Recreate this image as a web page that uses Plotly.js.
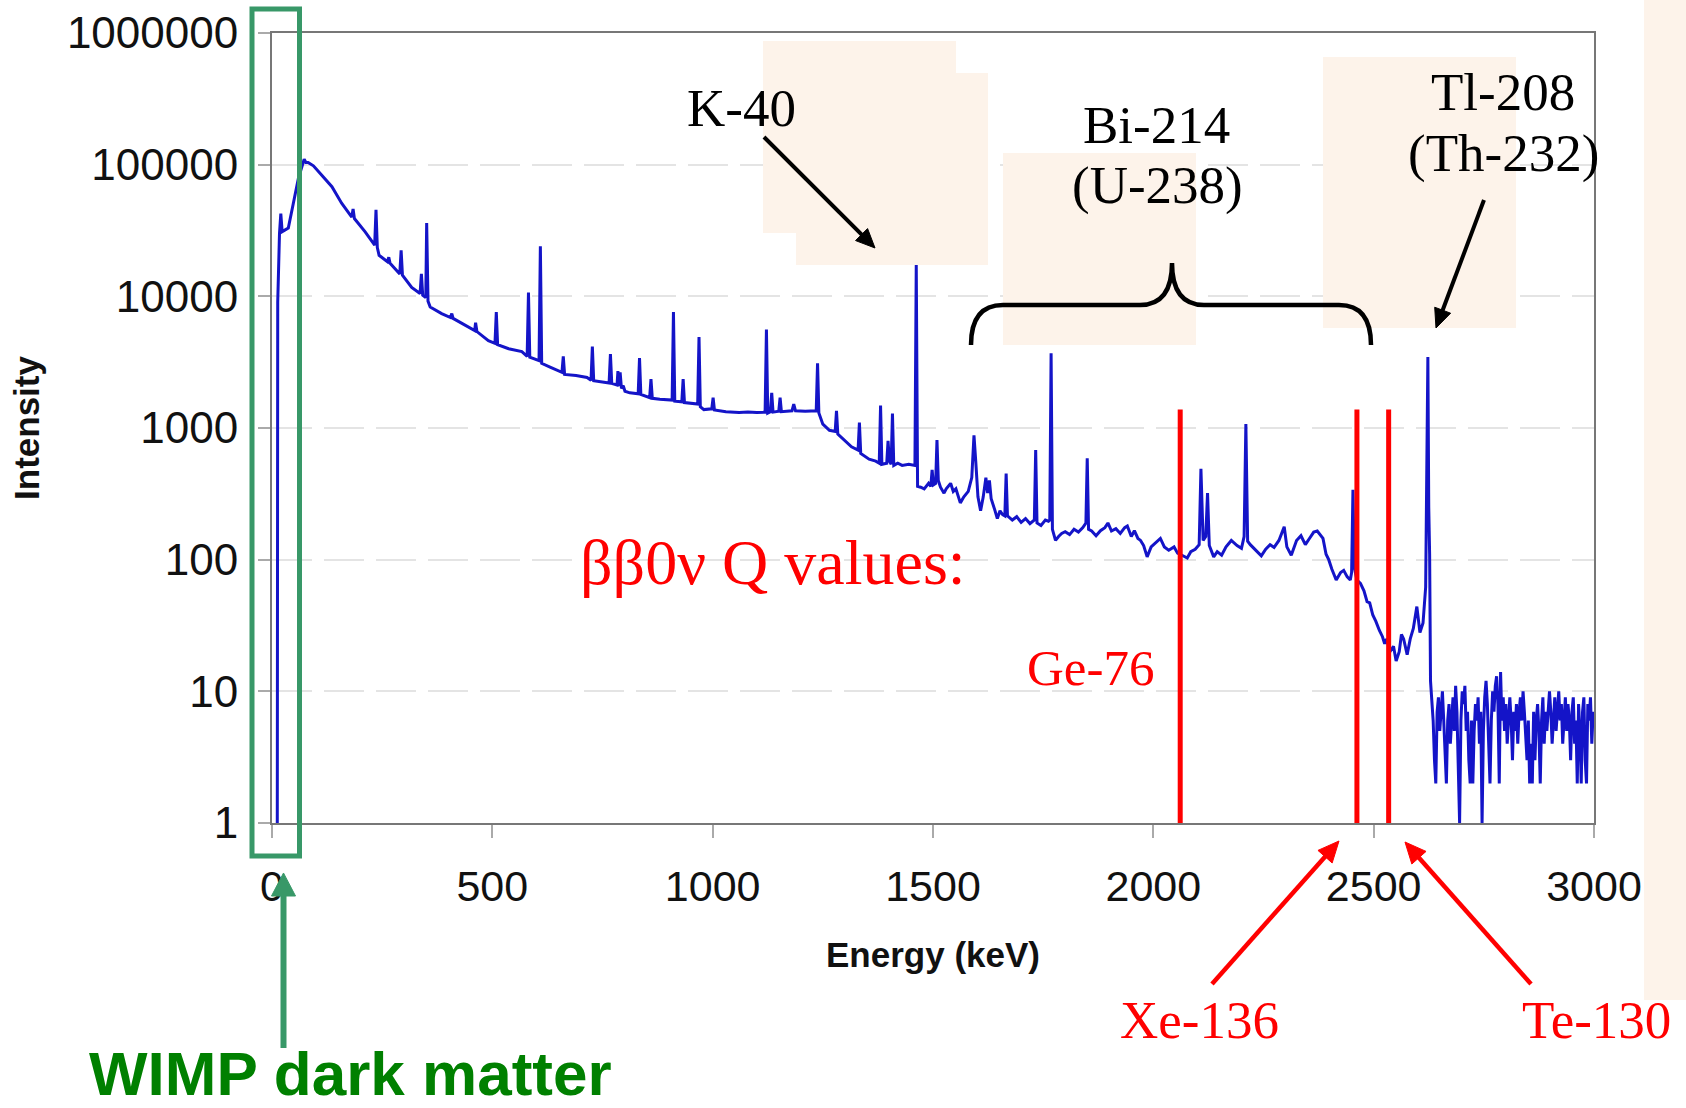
<!DOCTYPE html>
<html>
<head>
<meta charset="utf-8">
<script src="https://cdn.plot.ly/plotly-3.0.1.min.js"></script>
<style>
  html, body { margin: 0; padding: 0; background: #ffffff; }
  #chart { width: 1686px; height: 1108px; }
</style>
</head>
<body>
<div id="chart"></div>
<script>
// Background gamma spectrum, [energy keV, counts] pairs
const lowEnergySpectrum = [
  [10,1],[12,1],[13,9000],[15,22000],[17,30000],[20,42500],[23,31000],[28,31700],[37,33000],
  [48,50000],[60,79000],[73,110000],[77,104000],[82,104000],[94,98000],[113,83000],[136,68000],
  [158,51000],[181,40000],[184,46000],[187,39000],[211,31000],[233,24500],[236,45500],[239,23500],
  [243,20500],[262,18300],[265,19800],[268,17800],[290,14800],[293,22400],[296,14500],[317,11700],
  [336,10500],[339,14800],[342,10200],[349,9800],[351,36000],[354,9200],[359,8300],[385,7400],
  [405,6900],[408,7400],[411,6800],[453,5600],[460,5500],[462,6300],[465,5400],[491,4600],
  [506,4400],[509,7600],[512,4300],[537,4000],[567,3800],[579,3500],[582,10700],[585,3450],
  [606,3250],[609,24000],[612,3100],[631,2900],[645,2750],[658,2650],[661,3500],[664,2550]
];
const midEnergySpectrum = [
  [690,2500],[703,2450],[715,2420],[724,2300],[727,4150],[730,2290],[750,2250],[765,2200],
  [768,3650],[771,2180],[783,2120],[785,2700],[787,2080],[790,2650],[793,2000],[797,2100],
  [801,1900],[812,1850],[831,1820],[834,3400],[837,1800],[857,1700],[860,2350],[863,1680],
  [880,1650],[895,1640],[908,1630],[911,7600],[914,1600],[930,1580],[933,2350],[936,1560],
  [950,1540],[966,1520],[969,4900],[972,1450],[980,1380],[998,1400],[1001,1700],[1004,1370],
  [1030,1330],[1060,1310],[1080,1320],[1100,1310],[1119,1320],[1122,5600],[1125,1300],
  [1131,1330],[1134,1850],[1137,1320],[1150,1340],[1153,1700],[1156,1330],[1180,1350],
  [1184,1520],[1188,1350],[1210,1340],[1235,1350],[1238,3100],[1241,1300],[1250,1070],
  [1265,960],[1278,940],[1281,1350],[1284,900],[1300,800],[1315,720],[1330,680],[1333,1100],
  [1336,640],[1355,580],[1370,560],[1378,540],[1381,1480],[1384,530],[1395,540],[1398,800],
  [1401,560],[1405,530],[1408,1290],[1411,520],[1420,540],[1430,520],[1445,530],[1459,520],
  [1462,17300],[1465,360],[1472,355],[1480,345],[1490,380],[1495,360],[1498,480],[1501,370],
  [1506,380],[1509,810],[1512,400],[1517,355]
];
const highEnergySpectrum = [
  [1525,320],[1530,345],[1540,380],[1546,330],[1552,345],[1562,270],[1570,300],[1580,330],
  [1588,420],[1593,880],[1597,560],[1602,300],[1608,235],[1614,300],[1620,420],[1624,320],
  [1628,400],[1632,290],[1640,240],[1646,205],[1652,235],[1658,220],[1663,215],[1666,450],
  [1669,215],[1680,200],[1690,212],[1700,192],[1710,205],[1720,188],[1730,200],[1733,680],
  [1736,190],[1745,182],[1755,200],[1762,196],[1765,200],[1768,3700],[1771,170],[1778,140],
  [1785,150],[1792,158],[1800,163],[1810,155],[1820,170],[1830,162],[1840,175],[1847,190],
  [1850,590],[1853,170],[1860,165],[1870,152],[1880,166],[1890,175],[1897,190],[1905,165],
  [1915,172],[1925,158],[1935,175],[1941,180],[1950,150],[1957,166],[1965,145],[1971,140],
  [1978,128],[1986,105],[1995,125],[2005,135],[2016,145],[2025,125],[2035,118],[2047,125],
  [2055,112],[2065,108],[2077,103],[2085,115],[2095,120],[2104,130],[2108,490],[2113,140],
  [2119,150],[2123,320],[2127,128],[2137,105],[2145,115],[2155,108],[2165,125],[2177,140],
  [2190,128],[2200,122],[2206,150],[2210,1070],[2214,138],[2220,130],[2232,118],[2245,107],
  [2255,120],[2265,130],[2274,124],[2285,140],[2297,178],[2303,125],[2313,108],[2325,140],
  [2335,152],[2345,130],[2355,146],[2364,162],[2372,165],[2380,152],[2385,145],[2392,110],
  [2398,100],[2405,85],[2415,70],[2425,80],[2432,83],[2440,74],[2447,70],[2450,80],[2453,340],
  [2456,88],[2462,70],[2470,66],[2478,58],[2485,48],[2491,47],[2498,38],[2505,34],[2513,29],
  [2520,26],[2525,23],[2530,25],[2537,20],[2545,22],[2551,17],[2558,20],[2563,27],[2568,25],
  [2576,19],[2583,25],[2590,30],[2598,44],[2605,28],[2612,33],[2618,62],[2621,1200],
  [2623,3460],[2625,250],[2627,110],[2629,12]
];
// Counts above the Tl-208 line, one value per 3 keV channel
const tailStartKeV = 2632;
const tailStepKeV = 3;
const tailCounts = [
  9,6,3,2,7,9,5,8,10,6,3,2,6,8,4,7,9,5,11,7,3,1,6,10,8,11,5,7,3,2,6,2,5,8,6,9,4,7,1,5,
  9,12,8,4,2,6,10,7,11,13,8,2,14,6,9,5,8,4,7,9,6,3,7,5,8,4,7,9,6,10,7,5,3,6,2,4,2,7,3,6,
  8,5,2,6,9,4,7,5,8,10,7,4,6,9,5,7,10,6,8,4,7,9,5,8,6,3,7,9,4,6,2,8,5,2,7,9,3,2,8,6,9,4,7
];

// Double-beta-decay Q value markers
const qValueNames = ['Ge-76', 'Xe-136', 'Te-130'];
const qValueKeV = [2061, 2462, 2534];
const qLineTopCounts = 1380;

// Axis ticks
const energyTicks = [0, 500, 1000, 1500, 2000, 2500, 3000];
const intensityTicks = [1, 10, 100, 1000, 10000, 100000, 1000000];
const intensityTickText = ['1', '10', '100', '1000', '10000', '100000', '1000000'];

// ---- build the spectrum trace ----
const spectrumPairs = lowEnergySpectrum.concat(midEnergySpectrum, highEnergySpectrum);
const specX = spectrumPairs.map(p => p[0]);
const specY = spectrumPairs.map(p => p[1]);
tailCounts.forEach((c, i) => { specX.push(tailStartKeV + i * tailStepKeV); specY.push(c); });

const traces = [{
  type: 'scatter', mode: 'lines', x: specX, y: specY,
  line: { color: '#1414c8', width: 3 }, hoverinfo: 'skip', showlegend: false
}];
qValueKeV.forEach((e, i) => {
  traces.push({
    type: 'scatter', mode: 'lines', name: qValueNames[i],
    x: [e, e], y: [1, qLineTopCounts],
    line: { color: '#ff0000', width: 5 }, hoverinfo: 'skip', showlegend: false
  });
});

// ---- page geometry (pixels) for overlays ----
const W = 1686, H = 1108;
const PLOT = { l: 272, r: 1594, t: 33, b: 823 };
const toPX = x => (x - PLOT.l) / (PLOT.r - PLOT.l);
const toPY = y => (PLOT.b - y) / (PLOT.b - PLOT.t);
const pt = (x, y) => toPX(x).toFixed(5) + ',' + toPY(y).toFixed(5);

const shapes = [];
const PEACH = 'rgb(253,243,234)';
function panel(x0, y0, x1, y1) {
  shapes.push({ type: 'rect', xref: 'paper', yref: 'paper', layer: 'above',
    x0: toPX(x0), x1: toPX(x1), y0: toPY(y1), y1: toPY(y0),
    fillcolor: PEACH, line: { width: 0 } });
}
panel(763, 41, 956, 233);
panel(796, 73, 988, 265);
panel(1003, 153, 1196, 345);
panel(1323, 57, 1516, 328);
panel(1644, 0, 1686, 1000);

function arrow(x0, y0, x1, y1, color, width, headLen, headW) {
  const dx = x1 - x0, dy = y1 - y0, L = Math.hypot(dx, dy);
  const ux = dx / L, uy = dy / L, nx = -uy, ny = ux;
  const bx = x1 - ux * headLen, by = y1 - uy * headLen;
  shapes.push({ type: 'path', xref: 'paper', yref: 'paper', layer: 'above',
    path: 'M' + pt(x0, y0) + ' L' + pt(bx + ux * 3, by + uy * 3),
    line: { color: color, width: width } });
  shapes.push({ type: 'path', xref: 'paper', yref: 'paper', layer: 'above',
    path: 'M' + pt(x1, y1) + ' L' + pt(bx + nx * headW / 2, by + ny * headW / 2) +
          ' L' + pt(bx - nx * headW / 2, by - ny * headW / 2) + ' Z',
    fillcolor: color, line: { color: color, width: 1 } });
}
arrow(764, 137, 875, 248, '#000000', 4, 19, 17);
arrow(1484, 200, 1436, 328, '#000000', 4, 19, 17);
arrow(1212, 984, 1339, 841, '#ff0000', 4.5, 21, 19);
arrow(1531, 984, 1405, 842, '#ff0000', 4.5, 21, 19);
arrow(283.5, 1048, 283.5, 873, '#389868', 6, 23, 24);

// curly brace over the Bi-214 lines
shapes.push({ type: 'path', xref: 'paper', yref: 'paper', layer: 'above',
  path: 'M' + pt(971, 345) + ' Q' + pt(971, 305) + ' ' + pt(1003, 305) +
        ' L' + pt(1140, 305) + ' Q' + pt(1172, 305) + ' ' + pt(1172, 263) +
        ' Q' + pt(1172, 305) + ' ' + pt(1204, 305) +
        ' L' + pt(1339, 305) + ' Q' + pt(1371, 305) + ' ' + pt(1371, 345),
  line: { color: '#000000', width: 4.5 } });

// WIMP region box
shapes.push({ type: 'rect', xref: 'paper', yref: 'paper', layer: 'above',
  x0: toPX(252), x1: toPX(299.5), y0: toPY(856), y1: toPY(9),
  line: { color: '#389868', width: 5 } });

// ---- text labels ----
const SERIF = 'Liberation Serif, Times New Roman, serif';
const SANS = 'Liberation Sans, Arial, sans-serif';
function label(text, x, y, size, color, family) {
  return { text: text, xref: 'paper', yref: 'paper', x: toPX(x), y: toPY(y),
    xanchor: 'center', yanchor: 'middle', showarrow: false,
    font: { family: family || SERIF, size: size, color: color } };
}
const annotations = [
  label('K-40', 741, 108, 53, '#000000'),
  label('Bi-214', 1156, 125, 53, '#000000'),
  label('(U-238)', 1157, 185, 53, '#000000'),
  label('Tl-208', 1503, 92, 53, '#000000'),
  label('(Th-232)', 1503, 153, 53, '#000000'),
  label('ββ0ν Q values:', 773, 562, 64, '#ff0000'),
  label(qValueNames[0], 1090, 668, 51, '#ff0000'),
  label(qValueNames[1], 1199, 1020, 53, '#ff0000'),
  label(qValueNames[2], 1596, 1020, 53, '#ff0000'),
  label('<b>WIMP dark matter</b>', 350, 1073, 62, '#008000', SANS)
];

const layout = {
  width: W, height: H,
  margin: { l: PLOT.l, r: W - PLOT.r, t: PLOT.t, b: H - PLOT.b, pad: 0 },
  paper_bgcolor: '#ffffff', plot_bgcolor: '#ffffff',
  font: { family: SANS, color: '#111111' },
  showlegend: false,
  xaxis: {
    range: [0, 3000], tickmode: 'array', tickvals: energyTicks,
    ticks: 'outside', ticklen: 13, tickwidth: 2, tickcolor: '#aaaaaa',
    showline: true, linecolor: '#777777', linewidth: 2, mirror: true,
    showgrid: false, zeroline: false, automargin: false,
    tickfont: { family: SANS, size: 43, color: '#111111' }, ticklabelstandoff: 11,
    title: { text: '<b>Energy (keV)</b>', font: { family: SANS, size: 35, color: '#111111' }, standoff: 34 }
  },
  yaxis: {
    type: 'log', range: [0, 6], tickmode: 'array',
    tickvals: intensityTicks, ticktext: intensityTickText,
    ticks: 'outside', ticklen: 12, tickwidth: 2, tickcolor: '#aaaaaa',
    showline: true, linecolor: '#777777', linewidth: 2, mirror: true,
    showgrid: true, gridcolor: '#e4e4e4', gridwidth: 2, griddash: '40px,12px',
    zeroline: false, automargin: false,
    tickfont: { family: SANS, size: 44, color: '#111111' }, ticklabelstandoff: 11,
    title: { text: '<b>Intensity</b>', font: { family: SANS, size: 35, color: '#111111' }, standoff: 17 }
  },
  shapes: shapes,
  annotations: annotations
};

Plotly.newPlot('chart', traces, layout, { staticPlot: true, displayModeBar: false });
</script>
</body>
</html>
